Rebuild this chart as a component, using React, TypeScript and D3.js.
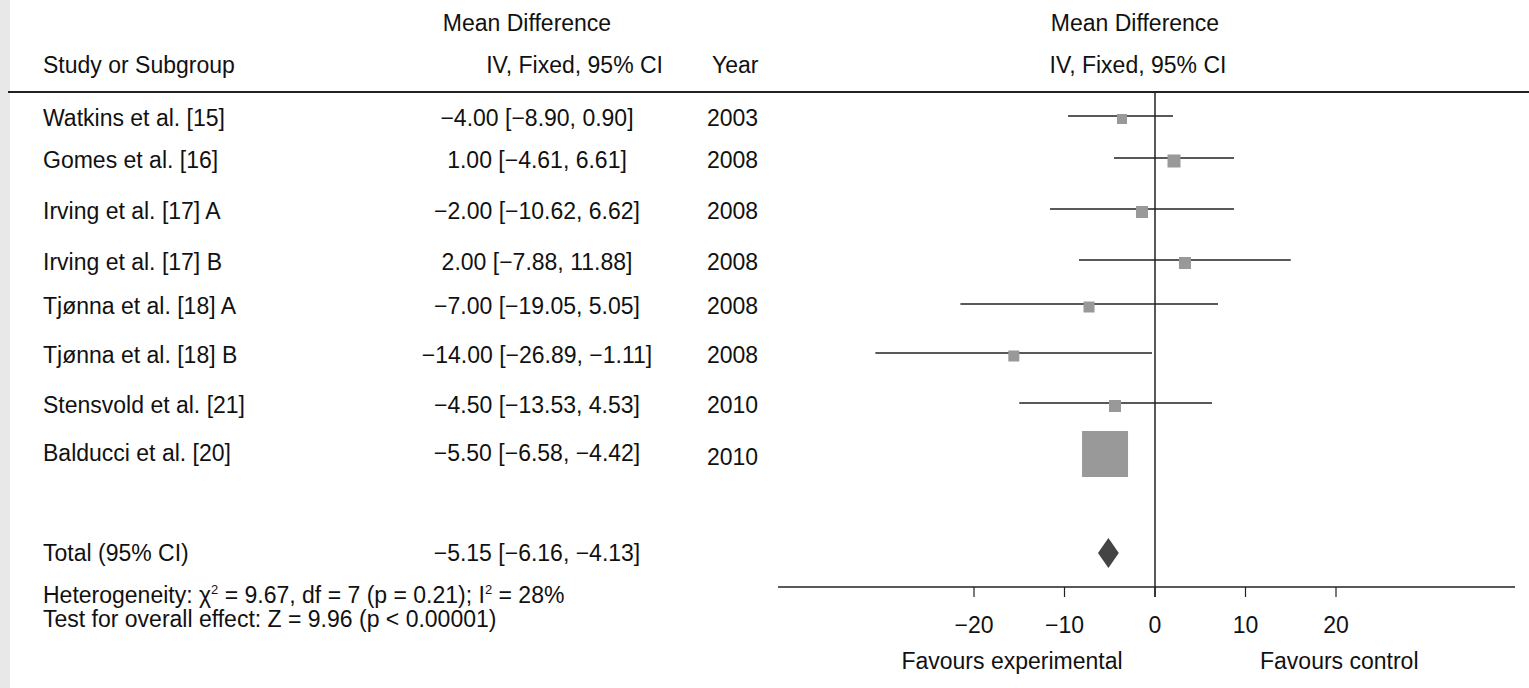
import * as d3 from "d3";

const studies = ["Watkins et al. [15]", "Gomes et al. [16]", "Irving et al. [17] A", "Irving et al. [17] B", "Tjønna et al. [18] A", "Tjønna et al. [18] B", "Stensvold et al. [21]", "Balducci et al. [20]"];
const ciLabels = ["−4.00 [−8.90, 0.90]", "1.00 [−4.61, 6.61]", "−2.00 [−10.62, 6.62]", "2.00 [−7.88, 11.88]", "−7.00 [−19.05, 5.05]", "−14.00 [−26.89, −1.11]", "−4.50 [−13.53, 4.53]", "−5.50 [−6.58, −4.42]"];
const years = ["2003", "2008", "2008", "2008", "2008", "2008", "2010", "2010"];
// plotted values as drawn in the figure
const means = [-3.65, 2.1, -1.44, 3.31, -7.29, -15.6, -4.42, -5.52];
const lows = [-9.61, -4.53, -11.6, -8.4, -21.5, -30.9, -15.0, -5.52];
const highs = [1.99, 8.73, 8.73, 15.0, 6.96, -0.33, 6.3, -5.52];
const boxSizes = [10, 13, 12, 12, 11, 11, 12, 46];
const rowYs = [119, 161, 212, 263, 307, 356, 406, 454];
const totalMean = -5.15, totalLo = -6.3, totalHi = -4.0;
const ticks = [-20, -10, 0, 10, 20];

export default function App() {
  const x = d3.scaleLinear().domain([0, 10]).range([1155, 1245.5]);
  const font = "'Liberation Sans', Arial, sans-serif";
  const fs = 23;
  const axisY = 587;
  return (
    <svg width={1529} height={688} style={{ position: "absolute", left: 0, top: 0 }} fontFamily={font} fontSize={fs} fill="#111">
      <rect x={0} y={0} width={1529} height={688} fill="#fff" />
      <rect x={0} y={0} width={10} height={688} fill="#e8e8e8" />
      <text x={527} y={31} textAnchor="middle">Mean Difference</text>
      <text x={43} y={73}>Study or Subgroup</text>
      <text x={663} y={73} textAnchor="end">IV, Fixed, 95% CI</text>
      <text x={712} y={73}>Year</text>
      <text x={1135} y={31} textAnchor="middle">Mean Difference</text>
      <text x={1138} y={73} textAnchor="middle">IV, Fixed, 95% CI</text>
      <line x1={8} x2={1529} y1={92} y2={92} stroke="#222" strokeWidth={2} />
      <line x1={x(0)} x2={x(0)} y1={92} y2={axisY + 10} stroke="#222" strokeWidth={1.5} />
      {studies.map((s, i) => (
        <g key={s}>
          <text x={43} y={rowYs[i] + 7}>{s}</text>
          <text x={537} y={rowYs[i] + 7} textAnchor="middle">{ciLabels[i]}</text>
          <text x={707} y={rowYs[i] + 7 + (i === 7 ? 4 : 0)}>{years[i]}</text>
          {lows[i] !== highs[i] && (
            <line x1={x(lows[i])} x2={x(highs[i])} y1={rowYs[i] - 3} y2={rowYs[i] - 3} stroke="#222" strokeWidth={1.5} />
          )}
          <rect x={x(means[i]) - boxSizes[i] / 2} y={rowYs[i] - boxSizes[i] / 2} width={boxSizes[i]} height={boxSizes[i]} fill="#999" />
        </g>
      ))}
      <text x={43} y={561}>Total (95% CI)</text>
      <text x={537} y={561} textAnchor="middle">−5.15 [−6.16, −4.13]</text>
      <path d={`M${x(totalLo)},553 L${x(totalMean)},538 L${x(totalHi)},553 L${x(totalMean)},568 Z`} fill="#444" />
      <text x={43} y={603}>Heterogeneity: χ<tspan dy={-9} fontSize={13}>2</tspan><tspan dy={9}> = 9.67, df = 7 (p = 0.21); I</tspan><tspan dy={-9} fontSize={13}>2</tspan><tspan dy={9}> = 28%</tspan></text>
      <text x={43} y={627}>Test for overall effect: Z = 9.96 (p &lt; 0.00001)</text>
      <line x1={778} x2={1515} y1={axisY} y2={axisY} stroke="#222" strokeWidth={1.5} />
      {ticks.map((t) => (
        <g key={t}>
          <line x1={x(t)} x2={x(t)} y1={axisY} y2={axisY + 10} stroke="#222" strokeWidth={1.2} />
          <text x={x(t)} y={633} textAnchor="middle">{t < 0 ? `−${-t}` : t}</text>
        </g>
      ))}
      <text x={1012} y={669} textAnchor="middle">Favours experimental</text>
      <text x={1260} y={669}>Favours control</text>
    </svg>
  );
}
